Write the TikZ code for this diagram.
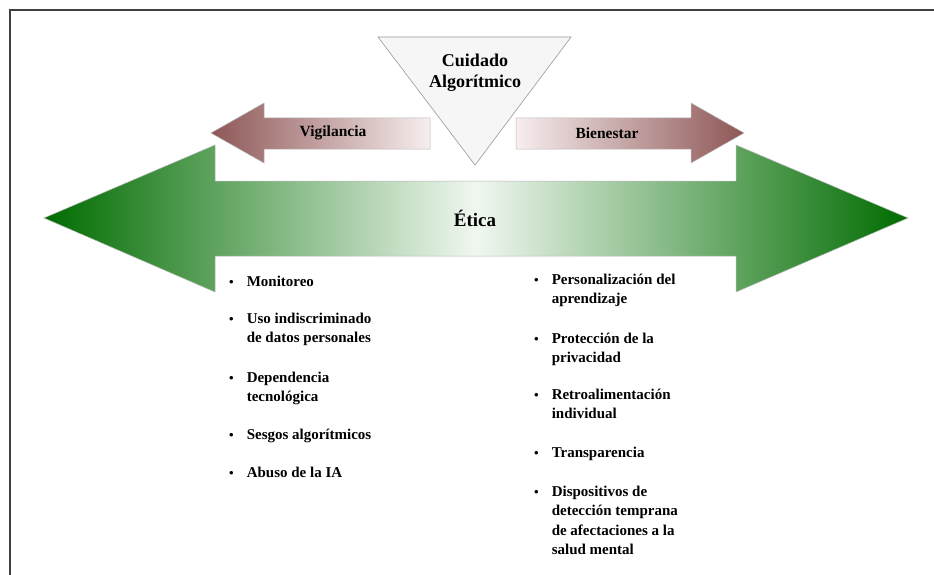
\documentclass[tikz,border=0pt]{standalone}
\usepackage{fontspec}
\setmainfont{Liberation Serif}
\definecolor{gdark}{RGB}{0,108,0}
\definecolor{glight}{RGB}{240,247,240}
\definecolor{bdark}{RGB}{142,86,86}
\definecolor{blight}{RGB}{247,238,238}
\definecolor{trifill}{RGB}{246,246,246}
\definecolor{edgegray}{RGB}{185,185,185}
\newcommand{\bitem}[1]{\begin{tabular}[t]{@{}l@{\hspace{13pt}}l@{}}{\fontsize{13}{13}\selectfont\textbullet} & #1\end{tabular}}
\begin{document}
\begin{tikzpicture}[x=1pt,y=-1pt,
  itemtext/.style={font=\fontsize{15}{19.5}\selectfont\bfseries, inner sep=0pt, anchor=base west},
  arrowlbl/.style={font=\fontsize{15.5}{18}\selectfont\bfseries, inner sep=0pt},
  bigarrow/.style={draw=edgegray, line width=0.5pt, left color=gdark, right color=gdark, middle color=glight},
  brownleft/.style={draw=edgegray, line width=0.5pt, left color=bdark, right color=blight},
  brownright/.style={draw=edgegray, line width=0.5pt, left color=blight, right color=bdark},
  triangleshape/.style={draw=gray!80, line width=0.6pt, fill=trifill}]
\useasboundingbox (0,0) rectangle (934,575);
\fill[white] (0,0) rectangle (934,575);
% frame
\draw[black!75, line width=1.3pt] (10,575) -- (10,10) -- (934,10);

% green double arrow
\path[bigarrow] (44,218) -- (215,145) -- (215,181) -- (736,181) -- (736,145) -- (908,218)
  -- (736,292) -- (736,256) -- (215,256) -- (215,292) -- cycle;
\node[font=\fontsize{19}{22}\selectfont\bfseries, inner sep=0pt] (etica) at (475,218) {Ética};

% brown arrows
\path[brownleft] (211,133) -- (264,103) -- (264,118) -- (430,118) -- (430,149) -- (264,149) -- (264,163) -- cycle;
\path[brownright] (744,133) -- (691,103) -- (691,118) -- (516,118) -- (516,149) -- (691,149) -- (691,163) -- cycle;
\node[arrowlbl] (vig) at (333,133) {Vigilancia};
\node[arrowlbl] (bien) at (607,133) {Bienestar};

% triangle
\path[triangleshape] (378,37) -- (571,37) -- (475,165) -- cycle;
\node[font=\fontsize{18}{21}\selectfont\bfseries, align=center, inner sep=0pt] (cuidado) at (475,73) {Cuidado\\Algorítmico};

% left list
\node[itemtext] (l1) at (229,286) {\bitem{Monitoreo}};
\node[itemtext] (l2) at (229,323) {\bitem{Uso indiscriminado\\ & de datos personales}};
\node[itemtext] (l3) at (229,382) {\bitem{Dependencia\\ & tecnológica}};
\node[itemtext] (l4) at (229,439) {\bitem{Sesgos algorítmicos}};
\node[itemtext] (l5) at (229,477) {\bitem{Abuso de la IA}};

% right list
\node[itemtext] (r1) at (534,284) {\bitem{Personalización del\\ & aprendizaje}};
\node[itemtext] (r2) at (534,343) {\bitem{Protección de la\\ & privacidad}};
\node[itemtext] (r3) at (534,399) {\bitem{Retroalimentación\\ & individual}};
\node[itemtext] (r4) at (534,457) {\bitem{Transparencia}};
\node[itemtext] (r5) at (534,496) {\bitem{Dispositivos de\\ & detección temprana\\ & de afectaciones a la\\ & salud mental}};
\end{tikzpicture}
\end{document}
